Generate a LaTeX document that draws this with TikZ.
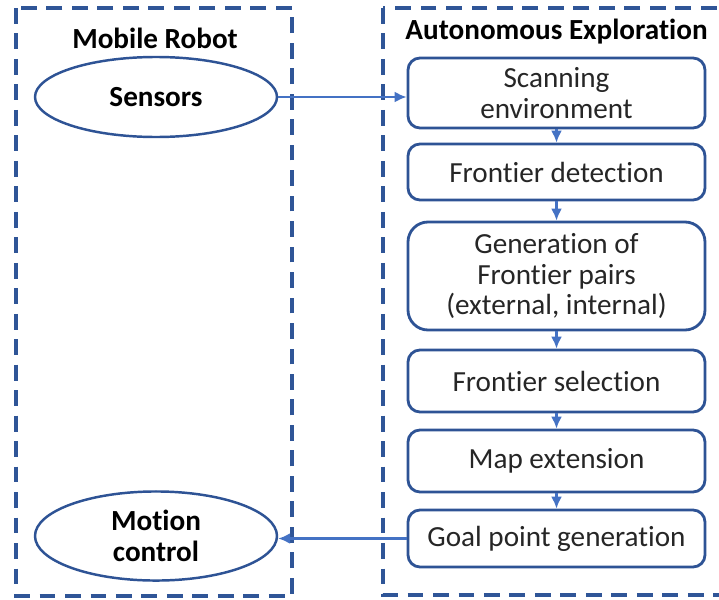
\documentclass[tikz,border=0pt]{standalone}
\usepackage{fontspec}
\setsansfont{Carlito}[Ligatures=NoCommon]
\usepackage{tikz}
\usetikzlibrary{positioning,arrows.meta,shapes.geometric}
\definecolor{frame}{HTML}{2F5597}
\definecolor{edge}{HTML}{2E5395}
\definecolor{link}{HTML}{4472C4}
\definecolor{ink}{HTML}{262626}

\begin{document}
\begin{tikzpicture}[
  every node/.style={font=\sffamily\fontsize{16.6}{17.4}\selectfont},
  group/.style={draw=frame, line width=1.8pt, dash pattern=on 9pt off 5.5pt},
  title/.style={font=\sffamily\bfseries\fontsize{16.6}{17.4}\selectfont, text=black},
  unit/.style={
    ellipse, draw=edge, line width=1.4pt, fill=white,
    minimum width=4.84cm, minimum height=1.6cm, align=center,
    font=\sffamily\bfseries\fontsize{16.6}{17.4}\selectfont, text=black,
  },
  stage/.style={
    draw=edge, line width=1.6pt, fill=white, rounded corners=0.24cm,
    minimum width=5.94cm, align=center, inner sep=2pt, text=ink,
  },
  flow/.style={-{Latex[length=2.4mm,width=2.2mm]}, line width=1.2pt, link},
]
  \clip (0,0) rectangle (14.38,-11.98);

  % Dashed frames
  \draw[group] (0.32,-0.16) rectangle (5.84,-11.92);
  \draw[group] (7.66,-0.16) rectangle (14.8,-11.9);

  \node[title] (robot)   at (3.1,-0.76)   {Mobile Robot};
  \node[title] (explore) at (11.13,-0.64) {Autonomous Exploration};

  % Robot side
  \node[unit] (sensors) at (3.12,-1.94)  {Sensors};
  \node[unit] (motion)  at (3.12,-10.72) {Motion\\control};

  % Exploration pipeline
  \node[stage, minimum height=1.4cm]  (scan)   at (11.13,-1.86)  {Scanning\\environment};
  \node[stage, minimum height=1.12cm] (detect) at (11.13,-3.44)  {Frontier detection};
  \node[stage, minimum height=2.16cm, rounded corners=0.4cm]
                                      (pairs)  at (11.13,-5.52)  {Generation of\\Frontier pairs\\(external, internal)};
  \node[stage, minimum height=1.24cm] (select) at (11.13,-7.62)  {Frontier selection};
  \node[stage, minimum height=1.24cm] (mapext) at (11.13,-9.22)  {Map extension};
  \node[stage, minimum height=1.14cm] (goal)   at (11.13,-10.77) {Goal point generation};

  \draw[flow] (sensors.east) -- (sensors.east -| scan.west);
  \draw[flow] (scan)   -- (detect);
  \draw[flow] (detect) -- (pairs);
  \draw[flow] (pairs)  -- (select);
  \draw[flow] (select) -- (mapext);
  \draw[flow] (mapext) -- (goal);
  \draw[flow] (goal.west) -- (goal.west -| motion.east);
\end{tikzpicture}
\end{document}
